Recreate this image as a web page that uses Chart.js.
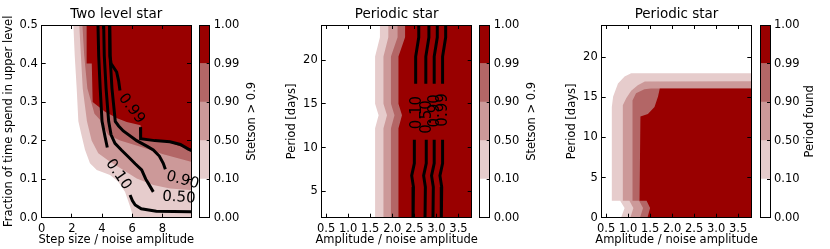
<!DOCTYPE html>
<html>
<head>
<meta charset="utf-8">
<script src="https://cdn.jsdelivr.net/npm/chart.js@4.4.1/dist/chart.umd.min.js"></script>
<style>
  body { margin: 0; background: #fff; }
  #wrap { position: relative; width: 830px; height: 249px; overflow: hidden; }
  canvas { position: absolute; top: 0; }
</style>
</head>
<body>
<div id="wrap">
  <canvas id="p1" style="left:0px" width="210" height="249"></canvas>
  <canvas id="p2" style="left:280px" width="210" height="249"></canvas>
  <canvas id="p3" style="left:560px" width="210" height="249"></canvas>
  <canvas id="c1" style="left:196px" width="70" height="249"></canvas>
  <canvas id="c2" style="left:476px" width="70" height="249"></canvas>
  <canvas id="c3" style="left:756px" width="74" height="249"></canvas>
</div>
<script>
console.log("connected")

Chart.defaults.font.family = "'DejaVu Sans', sans-serif";
Chart.defaults.font.size = 11.5;
Chart.defaults.color = '#000';

// colour levels (shared by all three colorbars)
const levelLabels = ['0.00', '0.10', '0.50', '0.90', '0.99', '1.00'];
const levelColors = ['#ffffff', '#e6cccc', '#cc9999', '#b36666', '#990000'];

// --- Two level star: filled regions above 0.10 / 0.50 / 0.90 / 0.99 ---
const twoLevel10 = [[2.1,0.6],[2.1,0.5],[2.19,0.42],[2.32,0.335],[2.43,0.25],[2.61,0.219],[2.87,0.176],[3.2,0.141],[3.65,0.124],[4.53,0.111],[5.08,0.093],[5.53,0.067],[5.86,0.029],[6.08,0],[6.1,-0.05],[10.5,-0.05],[10.5,0.6]];
const twoLevel50 = [[2.49,0.6],[2.49,0.5],[2.6,0.42],[2.72,0.335],[3.0,0.25],[3.31,0.2],[3.75,0.167],[4.53,0.145],[5.41,0.124],[6.3,0.102],[7.4,0.085],[8.51,0.076],[9.83,0.072],[10.5,0.072],[10.5,0.6]];
const twoLevel90 = [[2.7,0.6],[2.7,0.5],[2.82,0.42],[3.03,0.335],[3.5,0.27],[3.95,0.25],[4.4,0.215],[5.2,0.2],[6.5,0.185],[8.0,0.165],[9.9,0.145],[10.5,0.14],[10.5,0.6]];
const twoLevel99 = [[2.98,0.6],[2.98,0.4],[3.32,0.4],[3.38,0.3],[4.2,0.275],[5.0,0.258],[5.64,0.248],[6.56,0.24],[6.56,0.205],[8.5,0.195],[9.9,0.175],[10.5,0.17],[10.5,0.6]];
// contour lines
const twoLevelLine10a = [[3.72,0.52],[3.78,0.42],[3.88,0.335],[4.0,0.25],[4.2,0.21],[4.35,0.182]];
const twoLevelLine10b = [[5.86,0.059],[6.02,0.044],[6.2,0.033],[6.6,0.023],[7.6,0.017],[10.2,0.015]];
const twoLevelLine50 = [[4.1,0.52],[4.15,0.42],[4.27,0.335],[4.44,0.25],[4.6,0.215],[4.86,0.193],[5.3,0.175],[5.74,0.158],[6.2,0.14],[6.63,0.124],[6.9,0.1],[7.07,0.089],[7.4,0.067]];
const twoLevelLine90 = [[4.5,0.52],[4.53,0.42],[4.66,0.335],[4.88,0.25],[5.1,0.238],[5.41,0.225],[6.3,0.2],[7.0,0.185],[7.4,0.176],[7.8,0.16],[8.06,0.141],[8.2,0.126]];
const twoLevelLine99a = [[4.5,0.52],[4.53,0.42],[4.6,0.4],[4.97,0.378],[5.1,0.355],[5.19,0.33]];
const twoLevelLine99b = [[6.55,0.235],[6.56,0.205],[7.5,0.2],[8.5,0.197],[9.2,0.19],[9.72,0.178],[10.2,0.17]];
const twoLevelLabelText = ['0.10', '0.50', '0.90', '0.99'];
const twoLevelLabelX = [5.08, 9.1, 9.35, 5.95];
const twoLevelLabelY = [0.112, 0.052, 0.097, 0.283];
const twoLevelLabelRot = [55, 4, 15, 53];

// --- Periodic star (Stetson) ---
const stetson10 = [[1.72,25],[1.72,22.6],[1.61,20.4],[1.61,15.0],[1.69,13.7],[1.61,12.2],[1.61,1],[4,1],[4,25]];
const stetson50 = [[1.91,25],[1.91,22.6],[1.80,20.4],[1.80,15.0],[1.88,13.7],[1.80,12.2],[1.80,1],[4,1],[4,25]];
const stetson90 = [[2.12,25],[2.12,22.6],[1.97,20.4],[1.97,15.0],[2.05,13.7],[1.97,12.2],[1.97,1],[4,1],[4,25]];
const stetson99 = [[2.29,25],[2.29,22.6],[2.14,20.4],[2.14,15.0],[2.22,13.7],[2.14,12.2],[2.14,1],[4,1],[4,25]];
const stetsonLines = [
  [[2.6,25],[2.6,22.6],[2.53,20.4],[2.53,17.3]],
  [[2.5,10.9],[2.5,8.2],[2.44,6.8],[2.48,5.5],[2.47,1]],
  [[2.83,25],[2.83,22.6],[2.76,20.4],[2.76,17.3]],
  [[2.77,10.9],[2.77,8.2],[2.71,6.8],[2.75,5.5],[2.74,1]],
  [[3.02,25],[3.02,22.6],[2.95,20.4],[2.95,17.3]],
  [[2.95,10.9],[2.95,8.2],[2.89,6.8],[2.93,5.5],[2.92,1]],
  [[3.21,25],[3.21,22.6],[3.14,20.4],[3.14,17.3]],
  [[3.14,10.9],[3.14,8.2],[3.08,6.8],[3.12,5.5],[3.11,1]]
];
const stetsonLabelText = ['0.10', '0.50', '0.90', '0.99'];
const stetsonLabelX = [2.57, 2.78, 2.96, 3.15];
const stetsonLabelY = [14.0, 13.5, 14.2, 14.3];
const stetsonLabelRot = [-90, -90, -90, -90];

// --- Periodic star (period found) ---
const found10 = [[0.84,-1],[0.84,0],[0.92,1.2],[0.82,2.1],[0.63,2.1],[0.63,13.8],[0.66,15.1],[0.77,16.7],[0.92,17.6],[1.07,18.0],[4,18.0],[4,-1]];
const found50 = [[1.05,-1],[1.05,0],[1.12,1.2],[1.03,2.1],[0.87,2.1],[0.88,14.0],[0.96,14.9],[1.07,15.8],[1.22,16.5],[1.38,16.95],[4,17.0],[4,-1]];
const found90 = [[1.27,-1],[1.27,0],[1.34,1.2],[1.25,2.1],[1.09,2.1],[1.1,14.6],[1.18,15.5],[1.37,16.0],[1.52,16.1],[4,16.1],[4,-1]];
const found99 = [[1.44,-1],[1.44,0],[1.5,1.2],[1.42,2.1],[1.26,2.1],[1.28,12.6],[1.45,12.9],[1.6,13.8],[1.68,15.1],[1.72,16.1],[4,16.1],[4,-1]];

const labelSets = {
  twoLevel: { text: twoLevelLabelText, x: twoLevelLabelX, y: twoLevelLabelY, rot: twoLevelLabelRot },
  stetson: { text: stetsonLabelText, x: stetsonLabelX, y: stetsonLabelY, rot: stetsonLabelRot }
};

const pts = arr => arr.map(p => ({ x: p[0], y: p[1] }));

function fillSet(poly, color) {
  return { data: pts(poly), showLine: true, fill: 'shape', backgroundColor: color, borderWidth: 0, pointRadius: 0, tension: 0 };
}
function lineSet(path) {
  return { data: pts(path), showLine: true, fill: false, borderColor: '#000', borderWidth: 3, borderCapStyle: 'butt', pointRadius: 0, tension: 0 };
}

// inline contour labels, placed through the chart scales
const contourLabels = {
  id: 'contourLabels',
  afterDatasetsDraw(chart, args, opts) {
    const set = labelSets[opts.set];
    if (!set) return;
    const { ctx, scales } = chart;
    ctx.save();
    ctx.font = "15px 'DejaVu Sans'";
    ctx.fillStyle = '#000';
    ctx.textAlign = 'center';
    ctx.textBaseline = 'middle';
    set.text.forEach((t, i) => {
      ctx.save();
      ctx.translate(scales.x.getPixelForValue(set.x[i]), scales.y.getPixelForValue(set.y[i]));
      ctx.rotate(set.rot[i] * Math.PI / 180);
      ctx.fillText(t, 0, 0);
      ctx.restore();
    });
    ctx.restore();
  }
};

// axis titles (not squeezed to the axis length like the built-in ones)
const axisTitles = {
  id: 'axisTitles',
  afterDraw(chart, args, opts) {
    const { ctx, chartArea } = chart;
    ctx.save();
    ctx.font = "11.5px 'DejaVu Sans'";
    ctx.fillStyle = '#000';
    ctx.textAlign = 'center';
    ctx.textBaseline = 'middle';
    ctx.fillText(opts.x, (chartArea.left + chartArea.right) / 2, opts.xPos);
    ctx.translate(opts.yPos, (chartArea.top + chartArea.bottom) / 2);
    ctx.rotate(-Math.PI / 2);
    ctx.fillText(opts.y, 0, 0);
    ctx.restore();
  }
};

// rotated label beside a colorbar
const cbarTitle = {
  id: 'cbarTitle',
  afterDraw(chart, args, opts) {
    const { ctx, chartArea } = chart;
    ctx.save();
    ctx.translate(opts.x, (chartArea.top + chartArea.bottom) / 2);
    ctx.rotate(-Math.PI / 2);
    ctx.font = "11.5px 'DejaVu Sans'";
    ctx.fillStyle = '#000';
    ctx.textAlign = 'center';
    ctx.textBaseline = 'middle';
    ctx.fillText(opts.text, 0, 0);
    ctx.restore();
  }
};

function makePlot(id, o) {
  const grid = { drawOnChartArea: false, color: '#000', tickLength: -4, z: 1 };
  const border = { color: '#000', z: 1 };
  return new Chart(document.getElementById(id), {
    type: 'scatter',
    data: { datasets: o.datasets },
    options: {
      responsive: false,
      animation: false,
      layout: { padding: { left: 0, right: o.padRight, top: 0, bottom: 0 } },
      plugins: {
        legend: { display: false },
        tooltip: { enabled: false },
        title: { display: true, text: o.title, fullSize: false, color: '#000', font: { size: 13.5, weight: 'normal' }, padding: { top: 6.1, bottom: 2.7 } },
        contourLabels: { set: o.labels },
        axisTitles: { x: o.xTitle, y: o.yTitle, xPos: 240, yPos: o.yTitlePos }
      },
      scales: {
        x: {
          type: 'linear', position: 'bottom', min: o.xMin, max: o.xMax, grid, border,
          ticks: { stepSize: o.xStep, includeBounds: false, padding: 8, maxRotation: 0, autoSkip: false, callback: o.xFmt },
          afterFit: s => { s.height = 31.3; }
        },
        xTop: {
          type: 'linear', axis: 'x', position: 'top', min: o.xMin, max: o.xMax, grid, border,
          ticks: { stepSize: o.xStep, includeBounds: false, display: false },
          afterFit: s => { s.height = 0; }
        },
        y: {
          type: 'linear', position: 'left', min: o.yMin, max: o.yMax, grid, border,
          ticks: { stepSize: o.yStep, includeBounds: false, padding: 8, autoSkip: false, callback: o.yFmt },
          afterFit: s => { s.width = 41.7; }
        },
        yRight: {
          type: 'linear', axis: 'y', position: 'right', min: o.yMin, max: o.yMax, grid, border,
          ticks: { stepSize: o.yStep, includeBounds: false, display: false },
          afterFit: s => { s.width = 0; }
        }
      }
    },
    plugins: [contourLabels, axisTitles]
  });
}

function makeColorbar(id, o) {
  const border = { color: '#000', z: 1 };
  return new Chart(document.getElementById(id), {
    type: 'bar',
    data: {
      labels: [''],
      datasets: levelColors.map((c, i) => ({
        data: [[i, i + 1]], backgroundColor: c, borderWidth: 0,
        barPercentage: 1, categoryPercentage: 1, grouped: false
      }))
    },
    options: {
      responsive: false,
      animation: false,
      layout: { padding: { left: o.padLeft, right: 0, top: 25, bottom: 31.3 } },
      plugins: {
        legend: { display: false },
        tooltip: { enabled: false },
        cbarTitle: { text: o.label, x: o.labelX }
      },
      scales: {
        x: { type: 'category', grid: { display: false }, border, ticks: { display: false }, afterFit: s => { s.height = 0; } },
        xTop: { type: 'linear', axis: 'x', position: 'top', min: 0, max: 1, grid: { display: false }, border, ticks: { display: false }, afterFit: s => { s.height = 0; } },
        y: {
          type: 'linear', position: 'right', min: 0, max: levelColors.length,
          grid: { drawOnChartArea: false, color: '#000', tickLength: -3, z: 1 }, border,
          ticks: { stepSize: 1, padding: 7, callback: v => levelLabels[v] },
          afterFit: s => { s.width = o.axisWidth; }
        },
        yLeft: { type: 'linear', axis: 'y', position: 'left', min: 0, max: 1, grid: { display: false }, border, ticks: { display: false }, afterFit: s => { s.width = 0; } }
      }
    },
    plugins: [cbarTitle]
  });
}

const oneDec = v => v.toFixed(1);
const whole = v => String(v);

makePlot('p1', {
  title: 'Two level star', labels: 'twoLevel', padRight: 19,
  xMin: 0, xMax: 9.9, xStep: 2, xFmt: whole, xTitle: 'Step size / noise amplitude',
  yMin: 0, yMax: 0.5, yStep: 0.1, yFmt: oneDec, yTitle: 'Fraction of time spend in upper level', yTitlePos: 9.3,
  datasets: [
    lineSet(twoLevelLine10a), lineSet(twoLevelLine10b), lineSet(twoLevelLine50),
    lineSet(twoLevelLine90), lineSet(twoLevelLine99a), lineSet(twoLevelLine99b),
    fillSet(twoLevel99, levelColors[4]), fillSet(twoLevel90, levelColors[3]),
    fillSet(twoLevel50, levelColors[2]), fillSet(twoLevel10, levelColors[1])
  ]
});

makePlot('p2', {
  title: 'Periodic star', labels: 'stetson', padRight: 18.3,
  xMin: 0.4, xMax: 3.8, xStep: 0.5, xFmt: oneDec, xTitle: 'Amplitude / noise amplitude',
  yMin: 2, yMax: 24, yStep: 5, yFmt: whole, yTitle: 'Period [days]', yTitlePos: 12.3,
  datasets: [
    ...stetsonLines.map(lineSet),
    fillSet(stetson99, levelColors[4]), fillSet(stetson90, levelColors[3]),
    fillSet(stetson50, levelColors[2]), fillSet(stetson10, levelColors[1])
  ]
});

makePlot('p3', {
  title: 'Periodic star', labels: 'none', padRight: 18.7,
  xMin: 0.4, xMax: 3.8, xStep: 0.5, xFmt: oneDec, xTitle: 'Amplitude / noise amplitude',
  yMin: 0, yMax: 24, yStep: 5, yFmt: whole, yTitle: 'Period [days]', yTitlePos: 12.1,
  datasets: [
    fillSet(found99, levelColors[4]), fillSet(found90, levelColors[3]),
    fillSet(found50, levelColors[2]), fillSet(found10, levelColors[1])
  ]
});

makeColorbar('c1', { padLeft: 3.7, axisWidth: 56.3, label: 'Stetson > 0.9', labelX: 56 });
makeColorbar('c2', { padLeft: 3.7, axisWidth: 56.3, label: 'Stetson > 0.9', labelX: 55.7 });
makeColorbar('c3', { padLeft: 4, axisWidth: 60, label: 'Period found', labelX: 54 });
</script>
</body>
</html>
